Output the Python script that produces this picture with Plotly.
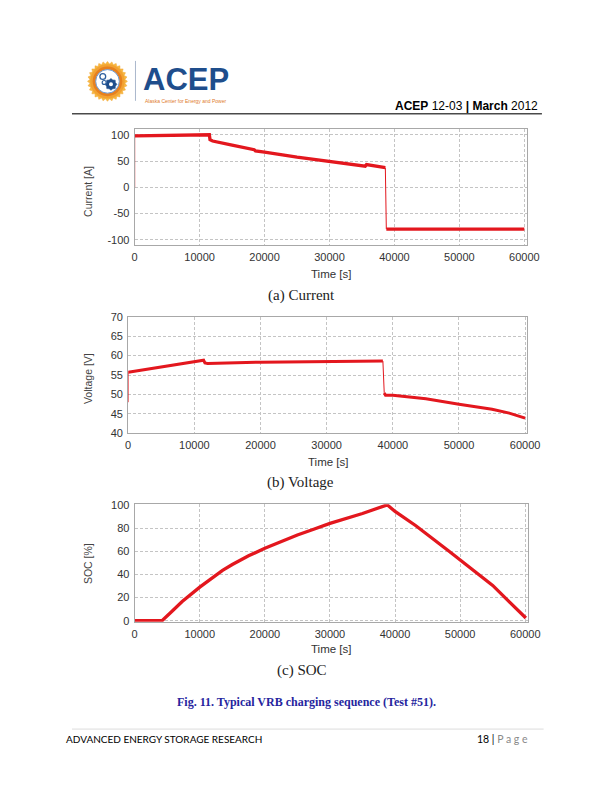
import plotly.graph_objects as go
import math

W, H = 612, 792

# ---------------- data ----------------
time_ticks = [0, 10000, 20000, 30000, 40000, 50000, 60000]
time_ticktext = ["0", "10000", "20000", "30000", "40000", "50000", "60000"]

# (a) Current [A]
cur_charge_t = [0, 3000, 6000, 9000, 11500, 11600, 12000, 15000, 18000, 18400,
                18600, 20000, 25000, 30000, 33000, 35500, 35700, 38600]
cur_charge_v = [98.5, 99.0, 99.5, 100.5, 100.5, 91.0, 88.5, 80.5, 73.0, 72.0,
                69.5, 67.5, 57.8, 49.5, 45.0, 40.5, 43.5, 37.5]
cur_dis_t = [38750, 45000, 50000, 55000, 60000]
cur_dis_v = [-79.5, -79.5, -79.5, -79.5, -79.5]
cur_jump_t = [0, 0, None, 38600, 38750]
cur_jump_v = [0, 98.5, None, 37.5, -79.5]
cur_ticks = [-100, -50, 0, 50, 100]

# (b) Voltage [V]
vol_charge_t = [0, 5000, 10000, 11200, 11400, 11600, 12000, 20000, 30000, 38500]
vol_charge_v = [55.7, 57.0, 58.3, 58.7, 58.8, 58.1, 58.0, 58.3, 58.5, 58.6]
vol_dis_t = [38700, 38900, 40000, 45000, 50000, 55000, 57600, 60000]
vol_dis_v = [50.4, 49.8, 49.8, 48.9, 47.5, 46.2, 45.2, 43.9]
vol_jump_t = [0, 0, None, 38500, 38700]
vol_jump_v = [48.0, 55.7, None, 58.6, 50.4]
vol_ticks = [40, 45, 50, 55, 60, 65, 70]

# (c) SOC [%]
soc_t = [0, 4200, 5700, 7300, 10000, 12400, 13500, 15000, 17500, 20000, 22500, 25000,
         27500, 30000, 35000, 38800, 40000, 43200, 48300, 53400, 55000, 57600, 60100]
soc_v = [0, 0, 8, 16.5, 29, 39, 43.5, 48.5, 56, 62.5, 68.5, 74,
         79, 84, 92.5, 100, 94.3, 82, 60, 37, 30.5, 16, 2.3]
soc_ticks = [0, 20, 40, 60, 80, 100]

RED = "#e3171e"

# target page pixel -> paper fraction (compensates the measured render mapping)
def px(x):
    return ((x - 1.0) / 0.974) / W

def py(y):
    return 1 - ((y - 3.0) / 0.9865) / H

fig = go.Figure()

fig.add_trace(go.Scatter(x=cur_jump_t, y=cur_jump_v, mode="lines",
                         line=dict(color=RED, width=1), xaxis="x", yaxis="y", showlegend=False))
fig.add_trace(go.Scatter(x=cur_charge_t, y=cur_charge_v, mode="lines",
                         line=dict(color=RED, width=3.3), xaxis="x", yaxis="y", showlegend=False))
fig.add_trace(go.Scatter(x=cur_dis_t, y=cur_dis_v, mode="lines",
                         line=dict(color=RED, width=3.3), xaxis="x", yaxis="y", showlegend=False))

fig.add_trace(go.Scatter(x=vol_jump_t, y=vol_jump_v, mode="lines",
                         line=dict(color=RED, width=1), xaxis="x2", yaxis="y2", showlegend=False))
fig.add_trace(go.Scatter(x=vol_charge_t, y=vol_charge_v, mode="lines",
                         line=dict(color=RED, width=3.0), xaxis="x2", yaxis="y2", showlegend=False))
fig.add_trace(go.Scatter(x=vol_dis_t, y=vol_dis_v, mode="lines",
                         line=dict(color=RED, width=3.0), xaxis="x2", yaxis="y2", showlegend=False))

fig.add_trace(go.Scatter(x=soc_t, y=soc_v, mode="lines",
                         line=dict(color=RED, width=3.3),
                         xaxis="x3", yaxis="y3", showlegend=False))

TICKFONT = dict(family="Liberation Sans, Arial, sans-serif", size=11, color="#333333")
GRID = dict(showgrid=True, gridcolor="#c4c4c4", gridwidth=0.7, griddash="3px,2px",
            showline=True, mirror=True, linecolor="#a8a8a8", linewidth=1,
            zeroline=False, ticks="", tickfont=TICKFONT, fixedrange=True)

def xaxis(dom, rng, anchor):
    return dict(domain=[px(dom[0]), px(dom[1])], range=rng, anchor=anchor,
                tickmode="array", tickvals=time_ticks, ticktext=time_ticktext,
                ticklabelstandoff=2, **GRID)

def yaxis(dom, rng, ticks, anchor):
    return dict(domain=[py(dom[1]), py(dom[0])], range=rng, anchor=anchor,
                tickmode="array", tickvals=ticks, ticktext=[str(t) for t in ticks],
                ticklabelstandoff=2, **GRID)

layout = dict(
    width=W, height=H, autosize=False,
    margin=dict(l=0, r=0, t=0, b=0, pad=0),
    paper_bgcolor="white", plot_bgcolor="white",
    showlegend=False,
    xaxis=xaxis([132.7, 524.8], [0, 60370], "y"),
    yaxis=yaxis([126.7, 242.7], [-110.5, 110.5], cur_ticks, "x"),
    xaxis2=xaxis([126.2, 525.0], [0, 60270], "y2"),
    yaxis2=yaxis([314.3, 431.0], [40, 70], vol_ticks, "x2"),
    xaxis3=xaxis([132.7, 525.7], [0, 60370], "y3"),
    yaxis3=yaxis([502.0, 619.9], [-1, 100.6], soc_ticks, "x3"),
)
fig.update_layout(**layout)

ann = []

def text(x, y, s, size, color="#222222", family="Liberation Sans, Arial, sans-serif",
         xanchor="center", angle=0, yanchor="middle"):
    ann.append(dict(x=px(x), y=py(y), xref="paper", yref="paper", text=s,
                    showarrow=False, xanchor=xanchor, yanchor=yanchor, textangle=angle,
                    borderpad=0, font=dict(family=family, size=size, color=color)))

text(329.3, 271.7, "Time [s]", 11.5, "#333333")
text(326.0, 459.3, "Time [s]", 11.5, "#333333")
text(329.3, 647.3, "Time [s]", 11.5, "#333333")
text(86.7, 188.5, "Current [A]", 10.5, "#444444", angle=-90)
text(86.7, 376.0, "Voltage [V]", 10.5, "#444444", angle=-90)
text(86.0, 561.0, "SOC [%]", 10.5, "#444444", angle=-90)

SERIF = "Liberation Serif, Times New Roman, serif"
text(300.0, 293.0, "(a) Current", 15, "#222222", SERIF)
text(298.7, 480.0, "(b) Voltage", 15, "#222222", SERIF)
text(300.0, 669.0, "(c) SOC", 15, "#222222", SERIF)

text(305.0, 700.0, "<b>Fig. 11. Typical VRB charging sequence (Test #51).</b>", 12,
     "#25259e", SERIF)

text(140.0, 95.0, "<b>ACEP</b>", 31, "#1f4e8c", xanchor="left", yanchor="bottom")
text(141.7, 98.0, "Alaska Center for Energy and Power", 5, "#e07b2a", xanchor="left")
text(537.5, 102.7, "<b>ACEP</b> 12-03 <b>|</b> <b>March</b> 2012", 12, "#000000",
     xanchor="right")

FOOT = "Lato, Liberation Sans, sans-serif"
text(63.3, 737.0, "ADVANCED ENERGY STORAGE RESEARCH", 10, "#000000", FOOT, xanchor="left")
text(527.3, 737.0, "18 | <span style='color:#8a8a8a'>P a g e</span>", 10.5, "#000000",
     FOOT, xanchor="right")

shapes = []

def line(x0, y0, x1, y1, color, width):
    shapes.append(dict(type="line", xref="paper", yref="paper", x0=px(x0), y0=py(y0),
                       x1=px(x1), y1=py(y1), line=dict(color=color, width=width)))

def circle(cx, cy, r, fill, lc=None, lw=0):
    shapes.append(dict(type="circle", xref="paper", yref="paper",
                       x0=px(cx - r), x1=px(cx + r), y0=py(cy + r), y1=py(cy - r),
                       fillcolor=fill, line=dict(color=lc or fill, width=lw)))

line(70, 111, 540, 111, "#4a4a4a", 1.5)
line(70, 727.3, 541.7, 727.3, "#dcdcdc", 1)
line(133.5, 58, 133.5, 98, "#aab8cc", 1)

cx, cy = 105.5, 78.5
pts = []
nteeth = 28
for i in range(nteeth * 2):
    a = math.pi * i / nteeth
    r = 20.0 if i % 2 == 0 else 17.6
    pts.append((cx + r * math.cos(a), cy + r * math.sin(a)))
path = "M " + " L ".join(f"{px(x):.5f},{py(y):.5f}" for x, y in pts) + " Z"
shapes.append(dict(type="path", xref="paper", yref="paper", path=path,
                   fillcolor="#f6b840", line=dict(color="#f3a93a", width=0.5)))
circle(cx, cy, 17.2, "#f2a232")
circle(cx, cy, 14.8, "#e6801f")
circle(cx, cy, 11.8, "#ffffff", "#6d9bd6", 1)
gx, gy = 109.0, 81.5
gpts = []
for i in range(16):
    a = math.pi * i / 8
    r = 6.0 if i % 2 == 0 else 4.8
    gpts.append((gx + r * math.cos(a), gy + r * math.sin(a)))
gpath = "M " + " L ".join(f"{px(x):.5f},{py(y):.5f}" for x, y in gpts) + " Z"
shapes.append(dict(type="path", xref="paper", yref="paper", path=gpath,
                   fillcolor="#1f4e8c", line=dict(color="#1f4e8c", width=0.5)))
circle(gx, gy, 2.0, "#ffffff")
circle(100.8, 73.6, 2.9, "#ffffff", "#2d5f9e", 1.3)
circle(102.2, 79.6, 2.0, "#ffffff", "#2d5f9e", 1.2)

fig.update_layout(annotations=ann, shapes=shapes)

fig.write_html(
    "out.html",
    config={"displayModeBar": False, "responsive": False},
    post_script=("document.documentElement.style.margin='0';"
                 "document.body.style.margin='0';"
                 "document.body.style.padding='0';"
                 "document.documentElement.style.overflow='hidden';"
                 "document.body.style.overflow='hidden';"),
)
